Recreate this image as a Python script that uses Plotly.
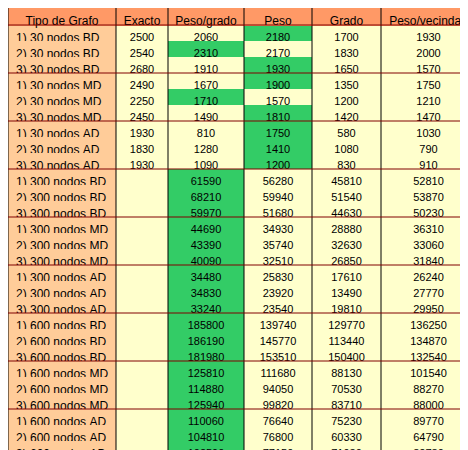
import plotly.graph_objects as go

headers = ["Tipo de Grafo", "Exacto", "Peso/grado", "Peso", "Grado", "Peso/vecindad"]

sizes = ["30", "300", "600"]
densities = ["BD", "MD", "AD"]
tipos = [f"{i}) {s} nodos {d}" for s in sizes for d in densities for i in (1, 2, 3)]

exacto = [2500, 2540, 2680, 2490, 2250, 2450, 1930, 1830, 1930] + [None] * 18
peso_grado = [2060, 2310, 1910, 1670, 1710, 1490, 810, 1280, 1090,
              61590, 68210, 59970, 44690, 43390, 40090, 34480, 34830, 33240,
              185800, 186190, 181980, 125810, 114880, 125940, 110060, 104810, 102590]
peso = [2180, 2170, 1930, 1900, 1570, 1810, 1750, 1410, 1200,
        56280, 59940, 51680, 34930, 35740, 32510, 25830, 23920, 23540,
        139740, 145770, 153510, 111680, 94050, 99820, 76640, 76800, 77150]
grado = [1700, 1830, 1650, 1350, 1200, 1420, 580, 1080, 830,
         45810, 51540, 44630, 28880, 32630, 26850, 17610, 13490, 19810,
         129770, 113440, 150400, 88130, 70530, 83710, 75230, 60330, 71930]
peso_vecindad = [1930, 2000, 1570, 1750, 1210, 1470, 1030, 790, 910,
                 52810, 53870, 50230, 36310, 33060, 31840, 26240, 27770, 29950,
                 136250, 134870, 132540, 101540, 88270, 88000, 89770, 64790, 82780]

col_widths = [108, 52, 76, 68, 69, 95]
W, H = 468, 450
HEADER_H, ROW_H = 17, 16

ORANGE, PEACH, CREAM, GREEN = "#ff9966", "#ffcc99", "#ffffcc", "#33cc66"

# the best heuristic per row gets the green fill
data_cols = [exacto, peso_grado, peso, grado, peso_vecindad]
fills = [[PEACH] * len(tipos), [CREAM] * len(tipos)]
for c in range(4):
    col = []
    for r in range(len(tipos)):
        heur = [peso_grado[r], peso[r], grado[r], peso_vecindad[r]]
        col.append(GREEN if heur[c] == max(heur) else CREAM)
    fills.append(col)

nb = lambda s: s.replace(" ", "\u00a0")
values = [[nb(t) for t in tipos]] + [["" if v is None else v for v in col] for col in data_cols]

fig = go.Figure(go.Table(
    columnwidth=col_widths,
    header=dict(values=[nb(h) for h in headers], fill_color=ORANGE, line_color=ORANGE,
                height=HEADER_H, align="center",
                font=dict(family="Liberation Sans", size=12, color="black")),
    cells=dict(values=values, fill_color=fills, line_color=fills, height=ROW_H,
               align=["left"] + ["center"] * 5,
               font=dict(family="Liberation Sans", size=[12, 11, 11, 11, 11, 11], color="black")),
    domain=dict(x=[0, 1], y=[0, 1]),
))

shapes = []
x = 0
for w in [0] + col_widths:
    x += w
    xf = min(x / W, 0.999)
    shapes.append(dict(type="line", xref="paper", yref="paper", x0=xf, x1=xf, y0=0, y1=1,
                       line=dict(color="black", width=1)))
for g in range(10):
    y = HEADER_H + g * 3 * ROW_H
    yf = 1 - y / H
    shapes.append(dict(type="line", xref="paper", yref="paper", x0=0, x1=1, y0=yf, y1=yf,
                       line=dict(color="#800000", width=1)))

fig.update_layout(width=W, height=H, margin=dict(l=0, r=0, t=0, b=0),
                  paper_bgcolor="white", shapes=shapes)
fig.write_html("out.html")
